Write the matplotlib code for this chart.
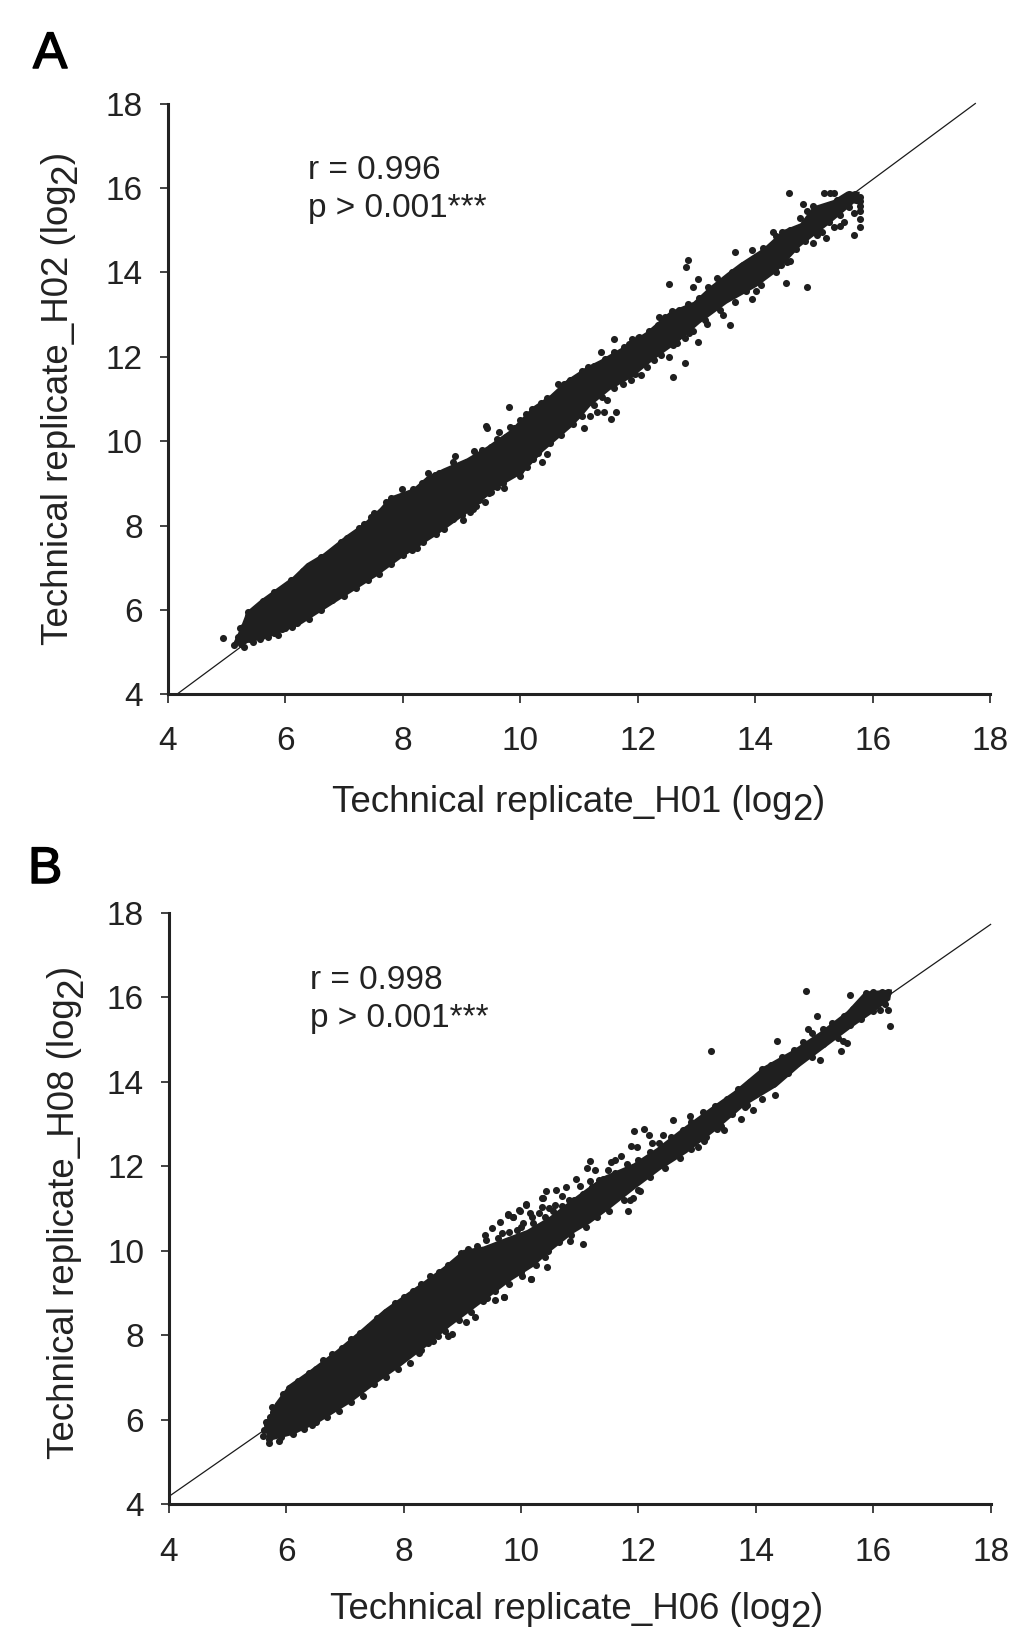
import matplotlib
matplotlib.use("Agg")
import matplotlib.pyplot as plt
import matplotlib.patheffects as pe

plt.rcParams['font.family'] = ['Liberation Sans', 'DejaVu Sans']

INK = '#222222'
W, H = 1021, 1638

ticks = [4, 6, 8, 10, 12, 14, 16, 18]

# Panel A: outline of the solid cloud (upper edge rising, then lower edge falling)
a_cloud_x = [5.11, 5.23, 5.34, 5.57, 5.85, 6.13, 6.36, 6.65, 7.04, 7.33, 7.61, 7.78, 8.18, 8.41, 8.69, 9.09, 9.43,
             9.83, 10.22, 10.51, 10.79, 11.13, 11.36, 11.76, 12.15, 12.55, 12.95, 13.23, 13.52, 13.74, 14.14, 14.48,
             14.77, 14.99, 15.33, 15.56, 15.78,
             15.78, 15.68, 15.28, 14.77, 14.37, 14.03, 13.52, 13.06, 12.67, 12.27, 11.93, 11.53, 11.19, 11.02, 10.85,
             10.39, 10.05, 9.60, 9.14, 8.58, 8.01, 7.55, 6.87, 6.25, 5.68, 5.11]
a_cloud_y = [5.21, 5.56, 5.96, 6.23, 6.51, 6.79, 7.10, 7.34, 7.77, 8.05, 8.41, 8.68, 8.88, 9.16, 9.35, 9.59, 9.87,
             10.26, 10.82, 11.09, 11.45, 11.76, 11.92, 12.24, 12.59, 13.07, 13.30, 13.66, 13.98, 14.21, 14.57, 15.00,
             15.16, 15.56, 15.71, 15.91, 15.91,
             15.60, 15.63, 15.16, 14.61, 14.01, 13.66, 13.26, 12.79, 12.32, 11.92, 11.53, 11.21, 10.82, 10.54, 10.30,
             9.75, 9.24, 8.88, 8.33, 7.77, 7.26, 6.79, 6.19, 5.64, 5.33, 5.13]
# Panel A: separately visible points
a_pts_x = [14.57, 15.18, 15.27, 15.35, 14.81, 14.76, 14.89, 14.98, 15.05, 15.78, 15.78, 15.78, 15.78, 15.69, 15.78,
           15.78, 15.68, 15.51, 15.45, 15.34, 15.21, 15.14, 15.05, 14.98, 14.30, 13.95, 13.65, 14.13, 14.59, 14.44,
           14.35, 14.52, 14.88, 13.95, 14.02, 12.86, 12.82, 13.02, 12.94, 12.54, 13.35, 13.57, 13.46, 13.18, 13.02,
           12.88, 12.37, 12.47, 12.58, 11.60, 11.37, 11.90, 12.03, 11.77, 11.59, 12.81, 12.60, 12.54, 12.06, 11.89,
           12.27, 12.67, 10.64, 10.84, 11.16, 9.80, 11.63, 11.43, 11.55, 11.30, 11.19, 11.47, 11.08,
           4.93, 9.43, 9.42, 9.64, 9.83, 9.22, 8.89, 8.85, 8.54, 8.42, 8.42, 7.99, 8.18, 8.01, 7.79, 7.50, 7.33,
           5.37, 5.50, 5.39, 5.23, 5.12, 5.29, 5.44, 5.56, 5.71, 5.87, 5.99, 6.11,
           10.37, 10.21, 10.46, 10.11, 10.00, 9.72, 9.60, 9.47, 9.40, 9.25, 9.14, 9.03, 8.56, 8.24]
a_pts_y = [15.87, 15.87, 15.87, 15.87, 15.63, 15.29, 15.46, 15.56, 15.49, 15.79, 15.69, 15.56, 15.46, 15.40, 15.26,
           15.07, 14.89, 15.20, 15.10, 15.07, 14.81, 14.96, 14.88, 14.69, 14.96, 14.52, 14.49, 14.57, 14.27, 14.17,
           14.00, 13.75, 13.66, 13.37, 13.56, 14.30, 14.13, 13.83, 13.66, 13.72, 13.87, 12.76, 12.99, 12.77, 12.34,
           12.55, 12.95, 12.93, 13.08, 12.43, 12.10, 12.41, 12.46, 12.24, 12.04, 11.86, 11.52, 12.00, 11.57, 11.45,
           11.91, 12.32, 11.35, 11.45, 11.75, 10.81, 10.70, 10.69, 10.52, 10.70, 10.60, 10.97, 10.30,
           5.33, 10.30, 10.36, 10.22, 10.33, 9.77, 9.65, 9.51, 9.20, 9.24, 9.08, 8.86, 8.86, 8.64, 8.64, 8.29, 8.03,
           5.94, 5.98, 5.72, 5.56, 5.17, 5.13, 5.25, 5.30, 5.35, 5.40, 5.56, 5.59,
           9.51, 9.57, 9.69, 9.38, 9.17, 8.90, 8.92, 8.76, 8.56, 8.46, 8.33, 8.13, 7.79, 7.46]
# Panel A: points along the rim of the cloud
a_rim_x = [5.2, 5.28, 5.36, 5.45, 5.55, 5.62, 5.72, 5.8, 5.92, 6.0, 6.1, 6.2, 6.3, 6.4, 6.5, 6.6, 6.72, 6.85, 6.95,
           7.05, 7.15, 7.25, 7.38, 7.45, 7.55, 7.65, 7.72, 7.85, 7.95, 8.1, 8.22, 8.32, 8.5, 8.62, 8.75, 8.95, 9.1,
           9.25, 9.35, 9.5, 9.6, 9.75, 9.9, 10.0, 10.1, 10.2, 10.35, 10.45, 10.6, 10.75, 10.9, 11.05, 11.25, 11.45,
           11.6, 11.85, 12.0, 12.2, 12.35, 12.7, 12.85, 13.05, 13.2, 13.4, 13.6, 13.8, 14.0, 14.2, 14.35, 14.45, 14.6,
           14.9, 15.1, 15.25, 15.4, 15.6, 15.7,
           5.25, 5.4, 5.6, 5.8, 5.95, 6.2, 6.4, 6.6, 6.8, 7.0, 7.2, 7.4, 7.6, 7.8, 8.0, 8.15, 8.35, 8.5, 8.7, 8.85,
           9.0, 9.2, 9.3, 9.5, 9.7, 9.85, 10.0, 10.15, 10.3, 10.5, 10.7, 10.9, 11.05, 11.25, 11.4, 11.6, 11.75, 11.95,
           12.15, 12.4, 12.6, 12.8, 12.95, 13.15, 13.4, 13.65, 13.85, 14.1, 14.3, 14.55, 14.7, 14.85, 15.05, 15.25,
           15.45, 15.6]
a_rim_y = [5.35, 5.6, 5.85, 5.95, 6.1, 6.2, 6.25, 6.42, 6.45, 6.55, 6.72, 6.7, 6.92, 7.03, 7.05, 7.25, 7.3, 7.45, 7.62,
           7.7, 7.78, 7.95, 8.0, 8.2, 8.25, 8.35, 8.55, 8.55, 8.6, 8.75, 8.8, 9.0, 9.02, 9.25, 9.22, 9.42, 9.5,
           9.65, 9.8, 9.85, 10.05, 10.1, 10.3, 10.5, 10.65, 10.75, 10.9, 11.03, 11.1, 11.35, 11.45, 11.65, 11.78, 11.95,
           12.1, 12.3, 12.45, 12.6, 12.75, 13.1, 13.25, 13.4, 13.65, 13.75, 14.0, 14.18, 14.35, 14.55, 14.85, 14.95, 15.0,
           15.25, 15.45, 15.6, 15.72, 15.85, 15.85,
           5.2, 5.3, 5.38, 5.45, 5.55, 5.7, 5.78, 6.0, 6.23, 6.32, 6.52, 6.7, 6.85, 7.08, 7.3, 7.42, 7.62, 7.85, 7.92, 8.15,
           8.25, 8.38, 8.6, 8.8, 9.0, 9.25, 9.3, 9.55, 9.72, 9.95, 10.15, 10.4, 10.6, 10.85, 11.05, 11.25, 11.35, 11.6,
           11.75, 12.05, 12.28, 12.45, 12.6, 12.87, 13.1, 13.3, 13.55, 13.7, 14.05, 14.25, 14.55, 14.75, 14.95, 15.2,
           15.35, 15.55]

# Panel B: outline of the solid cloud
b_cloud_x = [5.64, 5.81, 6.04, 6.41, 6.86, 7.23, 7.66, 8.05, 8.34, 8.68, 9.02, 9.36, 9.81, 10.10, 10.49, 10.89, 11.40,
             11.92, 12.31, 12.71, 13.22, 13.62, 14.13, 14.64, 15.10, 15.55, 15.86, 16.32,
             16.29, 15.95, 15.66, 15.21, 14.75, 14.36, 13.79, 13.33, 12.82, 12.37, 11.92, 11.52, 11.18, 10.89, 10.50,
             10.21, 9.81, 9.25, 8.79, 8.39, 7.94, 7.54, 7.09, 6.58, 6.12, 5.67]
b_cloud_y = [5.91, 6.39, 6.82, 7.18, 7.65, 8.08, 8.60, 8.99, 9.27, 9.62, 10.02, 10.10, 10.34, 10.49, 10.81, 11.24, 11.76,
             12.07, 12.43, 12.86, 13.38, 13.77, 14.36, 14.76, 15.19, 15.67, 16.14, 16.19,
             15.94, 15.59, 15.31, 14.84, 14.36, 13.89, 13.41, 12.86, 12.31, 11.91, 11.44, 11.00, 10.65, 10.41, 9.98,
             9.62, 9.27, 8.68, 8.20, 7.73, 7.25, 6.86, 6.39, 5.95, 5.64, 5.48]
# Panel B: separately visible points
b_pts_x = [14.86, 15.60, 15.04, 14.88, 13.24, 14.36, 16.28, 16.26, 16.12, 15.55, 15.49, 15.45, 15.10, 14.33, 13.95,
           13.82, 13.74, 13.45, 13.34, 13.12, 13.01, 12.58, 12.87, 12.42, 12.10, 11.92, 12.18, 11.87, 11.97, 12.23,
           11.70, 11.60, 11.53, 11.17, 11.12, 11.26, 11.48, 10.93, 11.00, 10.76, 10.59, 10.42, 10.37, 10.70, 10.81,
           11.18, 11.32, 10.35, 10.58, 10.47, 10.09, 10.30, 10.18, 9.98, 9.87, 9.77, 10.04, 9.67, 12.03, 11.90, 11.85,
           11.82, 11.06, 10.84, 10.41, 10.44, 10.16, 10.02, 9.70,
           10.35, 10.08, 9.97, 9.77, 9.64, 9.50, 9.39, 9.87, 10.15, 9.93, 10.17, 9.71, 9.56, 9.42, 9.22, 9.06, 8.82,
           8.76, 8.58, 8.26, 8.42, 5.71, 5.87, 5.61, 6.12, 6.44, 5.78, 5.67]
b_pts_y = [16.15, 16.05, 15.56, 15.26, 14.73, 14.96, 15.32, 15.70, 15.70, 14.92, 14.97, 14.73, 14.51, 13.69, 13.34,
           13.41, 13.11, 12.86, 12.88, 12.60, 12.46, 13.10, 13.19, 12.73, 12.88, 12.84, 12.73, 12.49, 12.45, 12.55,
           12.25, 12.15, 12.11, 12.13, 11.96, 11.91, 11.91, 11.71, 11.54, 11.51, 11.43, 11.41, 11.24, 11.30, 11.19,
           11.64, 11.68, 11.03, 11.08, 11.01, 11.08, 10.89, 10.81, 10.95, 10.81, 10.85, 10.65, 10.41, 11.42, 11.24, 11.19,
           10.93, 10.17, 10.22, 9.84, 9.61, 9.33, 9.39, 8.90,
           11.24, 11.10, 10.97, 10.86, 10.67, 10.53, 10.38, 10.81, 10.89, 10.49, 9.33, 8.91, 8.83, 8.87, 8.42, 8.31, 8.03,
           7.98, 7.99, 7.57, 7.81, 5.45, 5.50, 5.61, 5.66, 5.87, 6.19, 5.87]
# Panel B: points along the rim of the cloud
b_rim_x = [5.62, 5.66, 5.72, 5.75, 5.85, 5.95, 6.05, 6.2, 6.38, 6.5, 6.62, 6.78, 6.95, 7.1, 7.25, 7.4, 7.55, 7.7, 7.85,
           8.0, 8.15, 8.3, 8.45, 8.6, 8.75, 8.9, 8.98, 9.1, 9.25, 9.4, 9.6, 9.8, 10.0, 10.2, 10.4, 10.55, 10.7, 10.9,
           11.05, 11.2, 11.4, 11.6, 11.8, 12.0, 12.2, 12.35, 12.55, 12.75, 12.9, 13.1, 13.3, 13.5, 13.7, 13.9, 14.1,
           14.25, 14.45, 14.65, 14.8, 14.95, 15.15, 15.3, 15.5, 15.65, 15.78, 15.88, 16.0, 16.15, 16.25,
           5.7, 5.9, 6.1, 6.3, 6.5, 6.7, 6.9, 7.1, 7.3, 7.5, 7.7, 7.9, 8.1, 8.3, 8.5, 8.7, 8.95, 9.15, 9.35, 9.55, 9.8,
           10.0, 10.25, 10.45, 10.65, 10.85, 11.1, 11.3, 11.5, 11.75, 12.0, 12.2, 12.45, 12.7, 12.9, 13.15, 13.4, 13.6,
           13.85, 14.1, 14.3, 14.55, 14.7, 14.95, 15.15, 15.4, 15.6, 15.8, 16.0, 16.2]
b_rim_y = [5.75, 5.95, 6.05, 6.3, 6.35, 6.6, 6.75, 6.92, 7.1, 7.2, 7.4, 7.55, 7.7, 7.9, 8.05, 8.2, 8.4, 8.55, 8.75,
           8.9, 9.05, 9.2, 9.4, 9.5, 9.65, 9.75, 9.95, 10.05, 10.1, 10.25, 10.3, 10.45, 10.55, 10.65, 10.8, 10.95, 11.05, 11.2,
           11.35, 11.52, 11.7, 11.85, 12.05, 12.15, 12.35, 12.55, 12.7, 12.85, 13.05, 13.28, 13.42, 13.6, 13.82, 14.0, 14.3,
           14.4, 14.58, 14.75, 14.95, 15.15, 15.25, 15.4, 15.55, 15.72, 15.85, 16.1, 16.12, 16.12, 16.12,
           5.55, 5.58, 5.7, 5.78, 5.95, 6.05, 6.2, 6.42, 6.55, 6.85, 7.0, 7.2, 7.35, 7.65, 7.85, 8.1, 8.35, 8.55, 8.8, 9.05, 9.2,
           9.5, 9.65, 10.0, 10.2, 10.38, 10.55, 10.8, 10.95, 11.2, 11.45, 11.75, 11.95, 12.2, 12.4, 12.7, 12.95, 13.25,
           13.45, 13.6, 13.95, 14.2, 14.45, 14.6, 14.9, 15.05, 15.35, 15.5, 15.68, 15.85]

# Reference lines (end points)
a_line_x, a_line_y = [4.15, 17.75], [4.0, 18.0]
b_line_x, b_line_y = [4.0, 18.0], [4.18, 17.73]

a_xlabel, a_ylabel = 'Technical replicate_H01 (log', 'Technical replicate_H02 (log'
b_xlabel, b_ylabel = 'Technical replicate_H06 (log', 'Technical replicate_H08 (log'
a_stats = ['r = 0.996', 'p > 0.001***']
b_stats = ['r = 0.998', 'p > 0.001***']

fig = plt.figure(figsize=(W / 100, H / 100), dpi=100, facecolor='white')


def fx(px):
    return px / W


def fy(py):
    return 1 - py / H


def make_axes(left, right, top, bottom, xpad):
    ax = fig.add_axes([fx(left), fy(bottom), (right - left) / W, (bottom - top) / H])
    ax.set_xlim(4, 18)
    ax.set_ylim(4, 18)
    ax.set_xticks(ticks)
    ax.set_yticks(ticks)
    for s in ('top', 'right'):
        ax.spines[s].set_visible(False)
    for s in ('left', 'bottom'):
        ax.spines[s].set_linewidth(2.2)
        ax.spines[s].set_color(INK)
    ax.tick_params(axis='x', length=6.5, width=1.2, color=INK, labelsize=24, labelcolor=INK, pad=xpad)
    ax.tick_params(axis='y', length=6.0, width=1.2, color=INK, labelsize=24, labelcolor=INK, pad=12)
    return ax


def label_with_sub(x, y, text, rotation):
    """Label text followed by a full-size lowered 2 and a closing bracket."""
    kw = dict(fontsize=26.4, color=INK, annotation_clip=False)
    if rotation == 0:
        t0 = fig.text(fx(x), fy(y), text, fontsize=26.4, color=INK, ha='left', va='bottom')
        t1 = plt.gca().annotate('2', xy=(1, 0), xycoords=t0, xytext=(0, -8), textcoords='offset pixels',
                                ha='left', va='bottom', **kw)
        plt.gca().annotate(')', xy=(1, 0), xycoords=t1, xytext=(0, 8), textcoords='offset pixels',
                           ha='left', va='bottom', **kw)
    else:
        t0 = fig.text(fx(x), fy(y), text, fontsize=26.4, color=INK, rotation=90, ha='right', va='bottom')
        t1 = plt.gca().annotate('2', xy=(1, 1), xycoords=t0, xytext=(8, 0), textcoords='offset pixels',
                                rotation=90, ha='right', va='bottom', **kw)
        plt.gca().annotate(')', xy=(1, 1), xycoords=t1, xytext=(-8, 0), textcoords='offset pixels',
                           rotation=90, ha='right', va='bottom', **kw)


def panel(ax, cx, cy, px, py, rx, ry, lx, ly):
    ax.fill(cx, cy, color='#1f1f1f', lw=0, zorder=3)
    ax.scatter(rx, ry, s=26, color='#1f1f1f', linewidths=0, zorder=3, clip_on=False)
    ax.scatter(px, py, s=26, color='#1f1f1f', linewidths=0, zorder=3, clip_on=False)
    ax.plot(lx, ly, color='#1a1a1a', lw=0.9, zorder=2, clip_on=False)


def panel_letter(x, y, letter):
    fig.text(fx(x), fy(y), letter, fontsize=37, color='black', va='baseline',
             path_effects=[pe.withStroke(linewidth=1.1, foreground='black')])


axA = make_axes(168, 990, 103.5, 694.3, 16)
panel(axA, a_cloud_x, a_cloud_y, a_pts_x, a_pts_y, a_rim_x, a_rim_y, a_line_x, a_line_y)
label_with_sub(332, 820, a_xlabel, 0)
label_with_sub(76, 645, a_ylabel, 90)
fig.text(fx(308), fy(179), a_stats[0], fontsize=24, color=INK, va='baseline')
fig.text(fx(308), fy(217), a_stats[1], fontsize=24, color=INK, va='baseline')
panel_letter(33, 68, 'A')

axB = make_axes(169, 990.6, 913, 1504, 17)
panel(axB, b_cloud_x, b_cloud_y, b_pts_x, b_pts_y, b_rim_x, b_rim_y, b_line_x, b_line_y)
label_with_sub(330, 1627, b_xlabel, 0)
label_with_sub(82, 1459, b_ylabel, 90)
fig.text(fx(310), fy(989), b_stats[0], fontsize=24, color=INK, va='baseline')
fig.text(fx(310), fy(1027), b_stats[1], fontsize=24, color=INK, va='baseline')
panel_letter(28, 883, 'B')

fig.savefig('out.png', dpi=100, facecolor='white')
